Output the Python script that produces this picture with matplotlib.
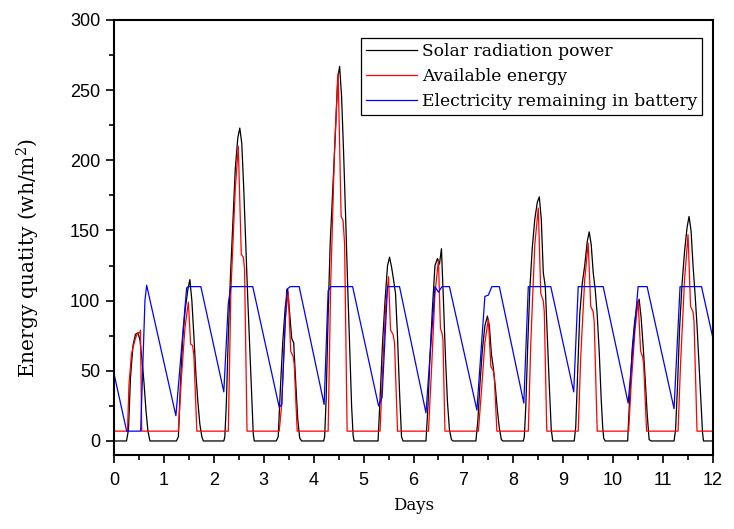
import numpy as np
import matplotlib
matplotlib.use("Agg")
import matplotlib.pyplot as plt
from matplotlib.ticker import MultipleLocator

plt.rcParams['mathtext.fontset'] = 'dejavuserif'

# Solar radiation: offsets within each day (fraction of a day) and values per day
solar_offsets = [0.20, 0.22, 0.25, 0.29, 0.33, 0.38, 0.43, 0.48, 0.52,
                 0.56, 0.60, 0.64, 0.68, 0.72, 0.76, 0.79, 0.81, 0.84]
solar_days = [
    [0, 0, 0, 8, 45, 68, 76, 77, 72, 58, 42, 22, 7, 0, 0, 0, 0, 0],
    [0, 0, 0, 3, 40, 75, 95, 108, 115, 100, 75, 48, 28, 12, 3, 0, 0, 0],
    [0, 3, 26, 75, 115, 155, 194, 216, 223, 212, 179, 140, 101, 66, 31, 5, 0, 0],
    [0, 0, 0, 3, 35, 70, 95, 108, 90, 73, 70, 42, 16, 2, 0, 0, 0, 0],
    [0, 3, 30, 90, 140, 178, 215, 258, 267, 245, 205, 160, 112, 68, 25, 4, 0, 0],
    [0, 0, 0, 0, 30, 70, 100, 125, 131, 124, 115, 105, 74, 35, 3, 0, 0, 0],
    [0, 0, 0, 25, 60, 95, 125, 130, 126, 137, 100, 60, 28, 8, 1, 0, 0, 0],
    [0, 0, 0, 15, 40, 65, 82, 89, 82, 62, 52, 38, 22, 9, 1, 0, 0, 0],
    [0, 3, 25, 70, 108, 138, 158, 170, 174, 158, 120, 110, 75, 40, 8, 0, 0, 0],
    [0, 0, 10, 50, 90, 112, 125, 142, 149, 140, 120, 108, 90, 64, 30, 10, 2, 0],
    [0, 0, 0, 0, 30, 65, 85, 97, 101, 88, 68, 45, 20, 1, 0, 0, 0, 0],
    [0, 0, 8, 40, 80, 112, 135, 152, 160, 150, 125, 105, 82, 55, 27, 6, 0, 0],
]

# Available energy (vertices, one day per line)
avail_x = [0.00,
           0.27, 0.30, 0.35, 0.42, 0.47, 0.52, 0.53, 0.555,
           1.29, 1.35, 1.42, 1.49, 1.535, 1.575, 1.60, 1.66,
           2.29, 2.34, 2.43, 2.49, 2.55, 2.59, 2.615, 2.665,
           3.31, 3.36, 3.43, 3.49, 3.54, 3.59, 3.61, 3.67,
           4.29, 4.34, 4.42, 4.49, 4.55, 4.59, 4.62, 4.67,
           5.33, 5.38, 5.44, 5.50, 5.54, 5.59, 5.62, 5.68,
           6.30, 6.36, 6.43, 6.50, 6.54, 6.57, 6.59, 6.63,
           7.30, 7.36, 7.43, 7.50, 7.55, 7.60, 7.62, 7.67,
           8.30, 8.35, 8.43, 8.50, 8.55, 8.60, 8.62, 8.67,
           9.30, 9.35, 9.43, 9.50, 9.55, 9.60, 9.62, 9.68,
           10.31, 10.36, 10.44, 10.50, 10.55, 10.59, 10.61, 10.67,
           11.30, 11.35, 11.43, 11.50, 11.55, 11.60, 11.62, 11.68,
           12.00]
avail_y = [7,
           7, 40, 62, 72, 77, 77, 79, 7,
           7, 45, 80, 99, 69, 68, 61, 7,
           7, 105, 180, 210, 133, 131, 123, 7,
           7, 26, 87, 106, 64, 60, 55, 7,
           7, 110, 210, 262, 160, 157, 140, 7,
           7, 50, 95, 117, 79, 76, 70, 7,
           7, 50, 105, 129, 80, 77, 72, 7,
           7, 35, 70, 87, 53, 50, 45, 7,
           7, 70, 140, 166, 105, 100, 92, 7,
           7, 60, 115, 141, 96, 92, 85, 7,
           7, 40, 80, 100, 64, 60, 55, 7,
           7, 55, 115, 147, 96, 92, 85, 7,
           7]

# Electricity remaining in battery (vertices)
battery_x = [0.00, 0.254, 0.534, 0.62, 0.654,
             1.24, 1.455, 1.49, 1.74,
             2.20, 2.29, 2.34, 2.78,
             3.31, 3.36, 3.46, 3.53, 3.71,
             4.21, 4.29, 4.34, 4.78,
             5.30, 5.37, 5.48, 5.72,
             6.25, 6.43, 6.50, 6.57, 6.72,
             7.27, 7.43, 7.50, 7.57, 7.72,
             8.21, 8.30, 8.75,
             9.21, 9.30, 9.80,
             10.30, 10.50, 10.68,
             11.22, 11.34, 11.77,
             12.00]
battery_y = [48, 7, 7, 100, 111,
             18, 109, 110, 110,
             35, 98, 110, 110,
             24, 26, 108, 110, 110,
             26, 107, 110, 110,
             25, 31, 110, 110,
             20, 110, 106, 110, 110,
             22, 103, 104, 110, 110,
             27, 110, 110,
             35, 110, 110,
             27, 110, 110,
             23, 110, 110,
             73]

solar_x = [0.0]
solar_y = [0]
for day, vals in enumerate(solar_days):
    solar_x += [day + t for t in solar_offsets]
    solar_y += vals
solar_x.append(12.0)
solar_y.append(0)

fig = plt.figure(figsize=(7.34, 5.29), dpi=100)
ax = fig.add_axes([114 / 734, 1 - 455 / 529, 599 / 734, 435 / 529])

ax.plot(solar_x, solar_y, color="black", lw=0.9, label="Solar radiation power")
ax.plot(avail_x, avail_y, color="#ff0000", lw=0.9, label="Available energy")
ax.plot(battery_x, battery_y, color="#0000ff", lw=0.9, label="Electricity remaining in battery")

ax.set_xlim(0, 12)
ax.set_ylim(-10, 300)
ax.xaxis.set_major_locator(MultipleLocator(1))
ax.xaxis.set_minor_locator(MultipleLocator(0.5))
ax.yaxis.set_major_locator(MultipleLocator(50))
ax.yaxis.set_minor_locator(MultipleLocator(25))

for s in ax.spines.values():
    s.set_linewidth(1.5)
ax.tick_params(which="major", direction="out", length=6, width=1.2, labelsize=13, pad=4)
ax.tick_params(axis="x", which="major", pad=6)
ax.tick_params(which="minor", direction="out", length=3.5, width=1.2)
ax.tick_params(top=False, right=False)
for lab in ax.get_xticklabels() + ax.get_yticklabels():
    lab.set_family("Liberation Sans")

ax.set_xlabel("Days", family="DejaVu Serif", fontsize=12)
ax.xaxis.set_label_coords(0.5, -0.097)
ax.set_ylabel("Energy quatity (wh/m$^2$)", family="DejaVu Serif", fontsize=14.5)
ax.yaxis.set_label_coords(-0.12, 0.453)

leg = ax.legend(loc="upper right", bbox_to_anchor=(0.9816, 0.9586), borderaxespad=0,
                prop={"family": "DejaVu Serif", "size": 12.3}, fancybox=False,
                framealpha=1, edgecolor="black", handlelength=3.0, handletextpad=0.25,
                labelspacing=0.45, borderpad=0.3)
leg.get_frame().set_linewidth(0.9)

plt.savefig("out.png", dpi=100)
